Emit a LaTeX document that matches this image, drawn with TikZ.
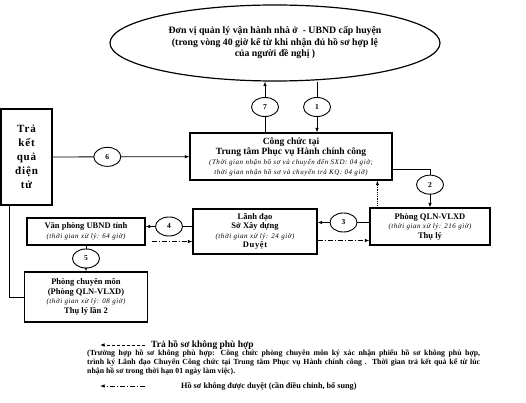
\documentclass[tikz,border=0pt]{standalone}
\usepackage{fontspec}
\setmainfont{Liberation Serif}
\newfontfamily\widefont[LetterSpace=8.0]{Liberation Serif}
\usetikzlibrary{shapes.geometric,arrows.meta}

\begin{document}
\begin{tikzpicture}[x=1pt,y=-1pt,
  box/.style={draw,line width=1.2pt,align=center,inner sep=1pt,font=\fontsize{8.5}{9.5}\selectfont\bfseries},
  num/.style={draw,ellipse,line width=0.9pt,fill=white,minimum width=27pt,minimum height=19pt,inner sep=0pt,font=\fontsize{7.5}{7.5}\selectfont\bfseries},
  arr/.style={line width=0.8pt,-{Latex[length=4.5pt,width=3.5pt]}},
  dotarr/.style={arr,densely dotted},
  dasharr/.style={arr,dash pattern=on 3pt off 2pt},
  dotdasharr/.style={arr,dash pattern=on 5pt off 2pt on 1pt off 2pt}]
  \useasboundingbox (0,0) rectangle (526,403);
  \newcommand\tgian[1]{{\widefont\itshape\mdseries\fontsize{7}{8}\selectfont #1}}

  \node[draw,ellipse,line width=1.2pt,minimum width=330pt,minimum height=76pt,align=center,
        font=\fontsize{9.8}{11.5}\selectfont\bfseries] (donvi) at (275,43)
    {Đơn vị quản lý vận hành nhà ở \ - UBND cấp huyện\\
     (trong vòng 40 giờ kể từ khi nhận đủ hồ sơ hợp lệ\\
     của người đề nghị )};
  \node[box,minimum width=202pt,minimum height=47pt,font=\fontsize{9.5}{10}\selectfont\bfseries] (congchuc) at (291,156.5)
    {Công chức tại\\Trung tâm Phục vụ Hành chính công\\
     \tgian{(Thời gian nhận hồ sơ và chuyển đến SXD: 04 giờ;}\\
     \tgian{thời gian nhận hồ sơ và chuyển trả KQ: 04 giờ)}};
  \node[box,minimum width=51pt,minimum height=96pt,font=\fontsize{11}{14}\selectfont\bfseries\widefont] (traketqua) at (26.5,157)
    {Trả\\kết\\quả\\điện\\tử};
  \node[box,minimum width=120pt,minimum height=37pt] (phongqln) at (430,226.5)
    {Phòng QLN-VLXD\\\tgian{(thời gian xử lý: 216 giờ)}\\Thụ lý};
  \node[box,minimum width=124pt,minimum height=45pt] (lanhdao) at (255,231.5)
    {Lãnh đạo\\Sở Xây dựng\\\tgian{(thời gian xử lý: 24 giờ)}\\{\widefont Duyệt}};
  \node[box,minimum width=118pt,minimum height=27pt] (vanphong) at (86,231.5)
    {Văn phòng UBND tỉnh\\\tgian{(thời gian xử lý: 64 giờ)}};
  \node[box,minimum width=123pt,minimum height=50pt] (chuyenmon) at (86,297)
    {Phòng chuyên môn\\(Phòng QLN-VLXD)\\\tgian{(thời gian xử lý: 08 giờ)}\\Thụ lý lần 2};

  \draw[arr] ([xshift=26]congchuc.north |- donvi.south) -- node[num]{1} ([xshift=26]congchuc.north);
  \draw[arr] ([xshift=-26]congchuc.north) -- node[num]{7} ([xshift=-26]congchuc.north |- donvi.south);
  \draw[arr] (traketqua) -- node[num,pos=0.4]{6} (congchuc);
  \draw[arr] ([yshift=-13]congchuc.east) -| node[num,pos=0.7]{2} (phongqln.north);
  \draw[dotarr] ([xshift=8]phongqln.north west) -- ([xshift=8]phongqln.north west |- congchuc.south);
  \draw[arr] ([yshift=4]phongqln.west) -- node[num]{3} ([yshift=4]phongqln.west -| lanhdao.east);
  \draw[dotdasharr] ([yshift=-9]lanhdao.east) -- ([yshift=-9]lanhdao.east -| phongqln.west);
  \draw[arr] ([yshift=5]lanhdao.west) -- node[num]{4} ([yshift=5]lanhdao.west -| vanphong.east);
  \draw[dotdasharr] ([xshift=6,yshift=-10]vanphong.east) -- ([yshift=-10]vanphong.east -| lanhdao.west);
  \draw[arr] (vanphong) -- node[num]{5} (chuyenmon);
  \draw[line width=0.8pt] ([xshift=9]traketqua.south west) |- (chuyenmon.west);

  \coordinate (tra1) at (145,345);
  \coordinate (tra2) at (100,345);
  \draw[dasharr] (tra1) -- (tra2);
  \node[anchor=west,inner sep=0pt,font=\fontsize{9.5}{10}\selectfont\bfseries] (trahoso) at (151,345)
    {Trả hồ sơ không phù hợp};
  \node[anchor=north west,inner sep=0pt,text width=393pt,align=justify,font=\fontsize{7.8}{8.8}\selectfont\bfseries] (ghichu) at (87,350)
    {(Trường hợp hồ sơ không phù hợp: Công chức phòng chuyên môn ký xác nhận phiếu hồ sơ không phù hợp,\linebreak
     trình ký Lãnh đạo Chuyển Công chức tại Trung tâm Phục vụ Hành chính công . Thời gian trả kết quả kể từ lúc\linebreak
     nhận hồ sơ trong thời hạn 01 ngày làm việc).};
  \coordinate (duyet1) at (145,386);
  \coordinate (duyet2) at (100,386);
  \draw[dotdasharr] (duyet1) -- (duyet2);
  \node[anchor=west,inner sep=0pt,font=\fontsize{8.2}{9}\selectfont\bfseries] (khongduyet) at (181,386)
    {Hồ sơ không được duyệt (cần điều chỉnh, bổ sung)};
\end{tikzpicture}
\end{document}
